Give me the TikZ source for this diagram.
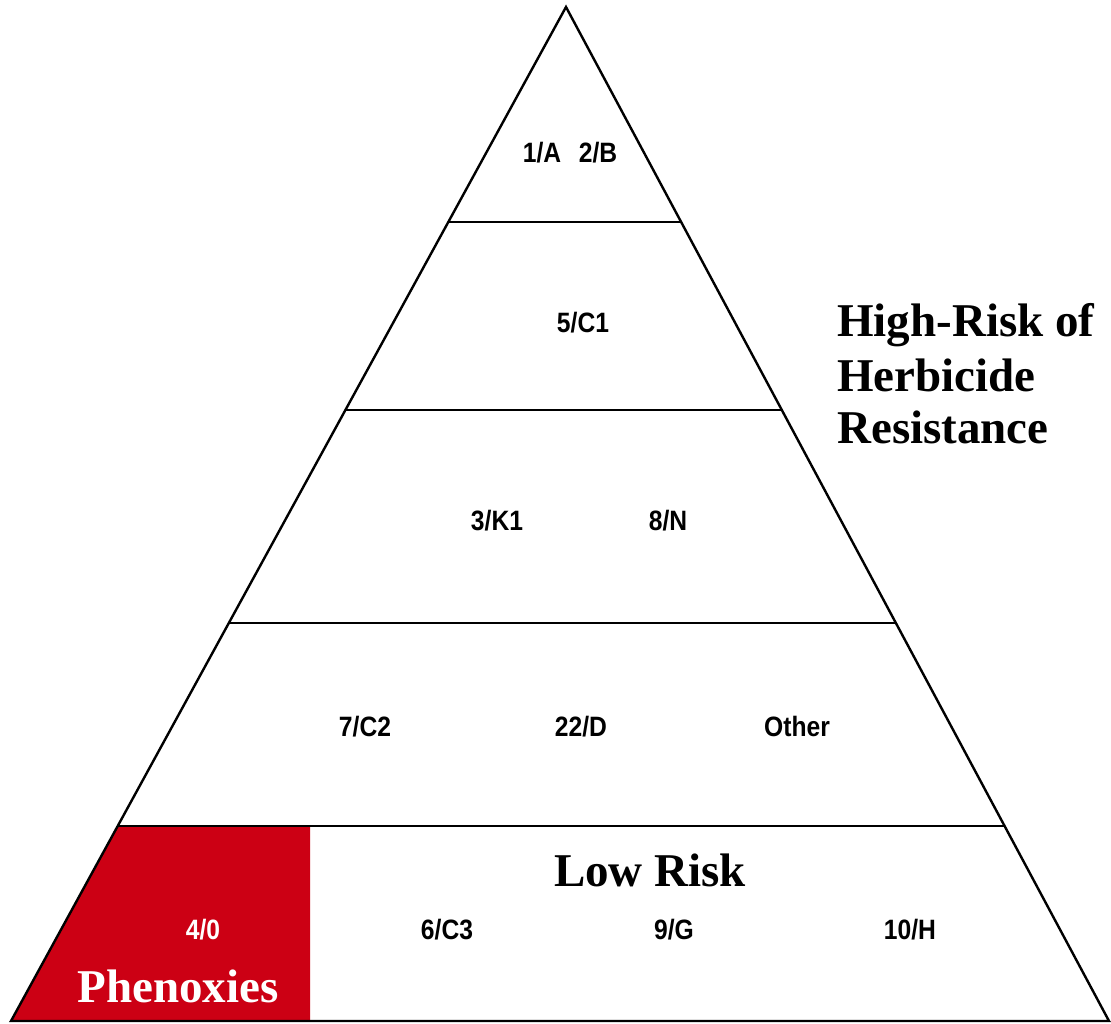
\documentclass[tikz,border=0pt]{standalone}
\usepackage{fontspec}
\setmainfont{Liberation Serif}
\newfontfamily\labelfont[FakeStretch=0.88]{Liberation Sans}
\usetikzlibrary{calc}
\definecolor{phenred}{RGB}{204,0,20}
\tikzset{
  edge/.style={draw=black, line width=2.4pt, line join=miter},
  tier/.style={draw=black, line width=2.6pt},
  grp/.style={inner sep=0pt, anchor=base, font=\labelfont\bfseries\fontsize{28}{28}\selectfont},
  big/.style={inner sep=0pt, font=\bfseries\fontsize{47}{47}\selectfont},
}
\begin{document}
\begin{tikzpicture}[x=1pt,y=-1pt]
\useasboundingbox (0,0) rectangle (1111,1024);
\fill[white] (0,0) rectangle (1111,1024);
\coordinate (A) at (566,7);
\coordinate (BL) at (11,1021);
\coordinate (BR) at (1109,1021);
% tier boundaries
\coordinate (L1) at ($(A)!{(222-7)/1014}!(BL)$);
\coordinate (R1) at ($(A)!{(222-7)/1014}!(BR)$);
\coordinate (L2) at ($(A)!{(410-7)/1014}!(BL)$);
\coordinate (R2) at ($(A)!{(410-7)/1014}!(BR)$);
\coordinate (L3) at ($(A)!{(623-7)/1014}!(BL)$);
\coordinate (R3) at ($(A)!{(623-7)/1014}!(BR)$);
\coordinate (L4) at ($(A)!{(826-7)/1014}!(BL)$);
\coordinate (R4) at ($(A)!{(826-7)/1014}!(BR)$);
\coordinate (PT) at (310,826);
\coordinate (PB) at (310,1021);
% red phenoxies block
\fill[phenred] (L4) -- (PT) -- (PB) -- (BL) -- cycle;
% tier lines
\draw[tier] (L1) -- (R1);
\draw[tier] (L2) -- (R2);
\draw[tier] (L3) -- (R3);
\draw[tier] (L4) -- (R4);
% triangle
\draw[edge] (A) -- (BR) -- (BL) -- cycle;
% labels
\node[grp] (g1) at (542,163) {1/A};
\node[grp] (g2) at (598,163) {2/B};
\node[grp] (g5) at (583,332) {5/C1};
\node[grp] (g3) at (497,530) {3/K1};
\node[grp] (g8) at (668,530) {8/N};
\node[grp] (g7) at (365,736) {7/C2};
\node[grp] (g22) at (581,736) {22/D};
\node[grp] (go) at (797,736) {Other};
\node[grp, text=white] (g4) at (203,939) {4/0};
\node[grp] (g6) at (447,939) {6/C3};
\node[grp] (g9) at (674,939) {9/G};
\node[grp] (g10) at (910,939) {10/H};
\node[big, anchor=base] (low) at (650,886) {Low Risk};
\node[big, anchor=base, text=white] (phen) at (178,1002) {Phenoxies};
\node[big, anchor=base west] (h1) at (837,337) {High-Risk of};
\node[big, anchor=base west] (h2) at (837,391) {Herbicide};
\node[big, anchor=base west] (h3) at (837,443) {Resistance};
\end{tikzpicture}
\end{document}
